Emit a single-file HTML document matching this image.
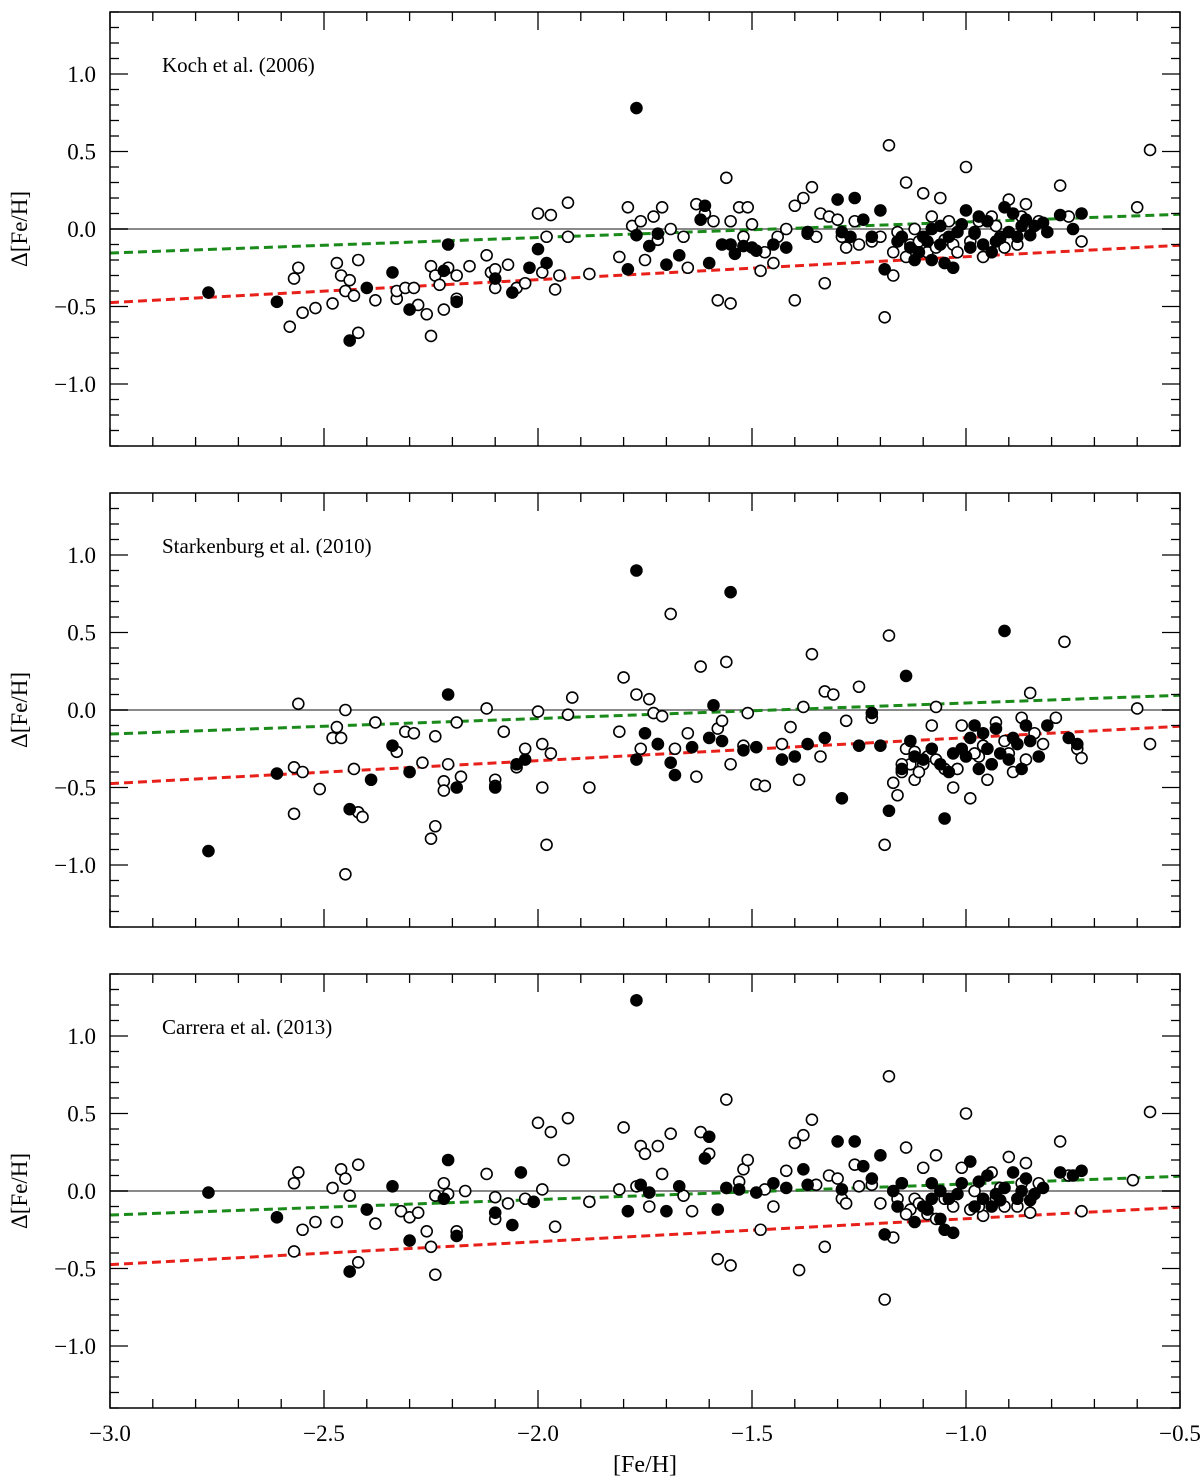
<!DOCTYPE html>
<html><head><meta charset="utf-8"><style>
body{margin:0;background:#fff}
svg{display:block}
text{font-family:"Liberation Serif",serif;fill:#000}
</style></head><body>
<svg id="chart" width="1200" height="1478" viewBox="0 0 1200 1478" xmlns="http://www.w3.org/2000/svg"></svg>
<script>
const panelTitles = ["Koch et al. (2006)", "Starkenburg et al. (2010)", "Carrera et al. (2013)"];
const xTicks = [-3.0, -2.5, -2.0, -1.5, -1.0, -0.5];
const yTicks = [-1.0, -0.5, 0.0, 0.5, 1.0];
const greenFit = [[-3.0, -0.155], [-0.5, 0.095]];
const redFit = [[-3.0, -0.475], [-0.5, -0.105]];

const p1Open = [[-2.57,-0.32],[-2.56,-0.25],[-2.58,-0.63],[-2.55,-0.54],[-2.52,-0.51],[-2.48,-0.48],[-2.47,-0.22],[-2.46,-0.30],[-2.45,-0.40],[-2.44,-0.33],[-2.43,-0.43],[-2.42,-0.20],[-2.42,-0.67],[-2.38,-0.46],[-2.33,-0.45],[-2.33,-0.40],[-2.31,-0.38],[-2.29,-0.38],[-2.28,-0.49],[-2.26,-0.55],[-2.25,-0.24],[-2.25,-0.69],[-2.24,-0.30],[-2.23,-0.36],[-2.22,-0.52],[-2.21,-0.25],[-2.19,-0.30],[-2.19,-0.45],[-2.16,-0.24],[-2.12,-0.17],[-2.11,-0.28],[-2.10,-0.26],[-2.10,-0.38],[-2.07,-0.23],[-2.05,-0.38],[-2.03,-0.35],[-2.00,0.10],[-1.99,-0.28],[-1.98,-0.05],[-1.97,0.09],[-1.96,-0.39],[-1.95,-0.30],[-1.93,0.17],[-1.93,-0.05],[-1.88,-0.29],[-1.81,-0.18],[-1.79,0.14],[-1.78,0.02],[-1.76,0.05],[-1.75,-0.20],[-1.73,0.08],[-1.72,-0.07],[-1.71,0.14],[-1.69,0.0],[-1.66,-0.05],[-1.65,-0.25],[-1.63,0.16],[-1.61,0.10],[-1.59,0.05],[-1.58,-0.46],[-1.56,0.33],[-1.55,0.05],[-1.55,-0.48],[-1.53,0.14],[-1.52,-0.05],[-1.51,0.14],[-1.50,0.03],[-1.48,-0.27],[-1.47,-0.15],[-1.45,-0.22],[-1.44,-0.05],[-1.42,0.0],[-1.40,0.15],[-1.40,-0.46],[-1.38,0.20],[-1.37,-0.03],[-1.36,0.27],[-1.35,-0.05],[-1.34,0.10],[-1.33,-0.35],[-1.32,0.08],[-1.30,0.06],[-1.29,-0.05],[-1.28,-0.12],[-1.26,0.05],[-1.25,-0.10],[-1.22,-0.08],[-1.20,-0.05],[-1.19,-0.57],[-1.18,0.54],[-1.17,-0.30],[-1.16,-0.02],[-1.14,0.30],[-1.13,-0.10],[-1.12,0.0],[-1.10,0.23],[-1.09,-0.15],[-1.08,0.08],[-1.06,0.20],[-1.05,-0.07],[-1.03,-0.10],[-1.00,0.40],[-0.98,-0.02],[-0.96,-0.18],[-0.94,0.08],[-0.92,-0.05],[-0.90,0.19],[-0.88,-0.10],[-0.86,0.16],[-0.85,0.0],[-0.83,0.05],[-0.78,0.28],[-0.76,0.08],[-0.73,-0.08],[-0.60,0.14],[-0.57,0.51],[-1.04,0.05],[-0.97,0.05],[-1.02,-0.15],[-1.14,-0.18],[-1.11,-0.08],[-1.07,-0.12],[-0.99,-0.08],[-0.93,0.02],[-0.87,0.08],[-0.91,-0.12],[-1.17,-0.15]];
const p1Filled = [[-2.77,-0.41],[-2.61,-0.47],[-2.44,-0.72],[-2.40,-0.38],[-2.34,-0.28],[-2.30,-0.52],[-2.22,-0.27],[-2.21,-0.10],[-2.19,-0.47],[-2.10,-0.32],[-2.06,-0.41],[-2.02,-0.25],[-2.00,-0.13],[-1.98,-0.22],[-1.79,-0.26],[-1.77,0.78],[-1.77,-0.04],[-1.74,-0.11],[-1.72,-0.03],[-1.70,-0.23],[-1.67,-0.17],[-1.62,0.06],[-1.61,0.15],[-1.60,-0.22],[-1.57,-0.10],[-1.55,-0.10],[-1.54,-0.16],[-1.52,-0.11],[-1.50,-0.12],[-1.49,-0.14],[-1.45,-0.10],[-1.42,-0.12],[-1.37,-0.02],[-1.30,0.19],[-1.29,-0.02],[-1.26,0.20],[-1.24,0.06],[-1.27,-0.05],[-1.22,-0.05],[-1.20,0.12],[-1.19,-0.26],[-1.15,-0.05],[-1.12,-0.20],[-1.11,-0.15],[-1.10,-0.05],[-1.08,-0.20],[-1.06,-0.10],[-1.05,-0.22],[-1.03,-0.25],[-1.01,0.03],[-1.00,0.12],[-0.99,-0.12],[-0.98,-0.03],[-0.96,-0.10],[-0.95,0.05],[-0.93,-0.08],[-0.91,0.14],[-0.90,-0.02],[-0.89,0.10],[-0.88,-0.05],[-0.86,0.06],[-0.84,0.02],[-0.81,-0.02],[-0.78,0.09],[-0.75,0.0],[-0.73,0.10],[-1.08,0.0],[-1.04,-0.05],[-0.94,-0.15],[-1.13,-0.12],[-1.09,-0.08],[-1.02,-0.02],[-0.97,0.08],[-0.92,-0.06],[-0.87,0.02],[-0.85,-0.04],[-1.16,-0.08],[-1.06,0.02],[-0.82,0.04]];

const p2Open = [[-2.56,0.04],[-2.57,-0.37],[-2.57,-0.67],[-2.55,-0.40],[-2.51,-0.51],[-2.48,-0.18],[-2.47,-0.11],[-2.46,-0.18],[-2.45,0.0],[-2.43,-0.38],[-2.42,-0.66],[-2.45,-1.06],[-2.41,-0.69],[-2.38,-0.08],[-2.33,-0.27],[-2.31,-0.14],[-2.29,-0.15],[-2.27,-0.34],[-2.25,-0.83],[-2.24,-0.75],[-2.24,-0.17],[-2.22,-0.46],[-2.22,-0.52],[-2.21,-0.35],[-2.19,-0.08],[-2.18,-0.43],[-2.12,0.01],[-2.10,-0.45],[-2.10,-0.49],[-2.08,-0.14],[-2.05,-0.37],[-2.03,-0.25],[-2.00,-0.01],[-1.99,-0.22],[-1.99,-0.50],[-1.97,-0.28],[-1.98,-0.87],[-1.93,-0.03],[-1.92,0.08],[-1.88,-0.50],[-1.81,-0.14],[-1.80,0.21],[-1.77,0.10],[-1.76,-0.25],[-1.74,0.07],[-1.73,-0.02],[-1.72,-0.22],[-1.69,0.62],[-1.71,-0.04],[-1.68,-0.25],[-1.65,-0.15],[-1.63,-0.43],[-1.62,0.28],[-1.58,-0.12],[-1.57,-0.07],[-1.56,0.31],[-1.55,-0.35],[-1.52,-0.23],[-1.51,-0.02],[-1.49,-0.48],[-1.47,-0.49],[-1.43,-0.22],[-1.41,-0.11],[-1.39,-0.45],[-1.38,0.02],[-1.36,0.36],[-1.34,-0.30],[-1.33,0.12],[-1.31,0.10],[-1.28,-0.07],[-1.25,0.15],[-1.22,-0.05],[-1.19,-0.87],[-1.18,0.48],[-1.17,-0.47],[-1.16,-0.55],[-1.15,-0.40],[-1.14,-0.25],[-1.12,-0.45],[-1.10,-0.35],[-1.08,-0.10],[-1.07,0.02],[-1.05,-0.38],[-1.03,-0.50],[-1.01,-0.10],[-0.99,-0.57],[-0.97,-0.30],[-0.95,-0.45],[-0.93,-0.08],[-0.91,-0.20],[-0.89,-0.40],[-0.87,-0.05],[-0.85,0.11],[-0.84,-0.15],[-0.82,-0.22],[-0.79,-0.05],[-0.77,0.44],[-0.74,-0.25],[-0.73,-0.31],[-0.60,0.01],[-0.57,-0.22],[-1.13,-0.35],[-0.96,-0.23],[-1.09,-0.30],[-1.15,-0.35],[-1.11,-0.40],[-1.07,-0.32],[-1.02,-0.38],[-0.98,-0.28],[-0.94,-0.35],[-0.90,-0.28],[-0.86,-0.32],[-1.12,-0.27]];
const p2Filled = [[-2.77,-0.91],[-2.61,-0.41],[-2.44,-0.64],[-2.39,-0.45],[-2.34,-0.23],[-2.30,-0.40],[-2.21,0.10],[-2.19,-0.50],[-2.10,-0.50],[-2.05,-0.35],[-2.03,-0.32],[-1.77,0.90],[-1.77,-0.32],[-1.75,-0.15],[-1.72,-0.22],[-1.69,-0.34],[-1.68,-0.42],[-1.64,-0.24],[-1.60,-0.18],[-1.59,0.03],[-1.57,-0.20],[-1.55,0.76],[-1.52,-0.26],[-1.49,-0.24],[-1.43,-0.32],[-1.40,-0.30],[-1.37,-0.22],[-1.33,-0.18],[-1.29,-0.57],[-1.25,-0.23],[-1.22,-0.02],[-1.20,-0.23],[-1.18,-0.65],[-1.15,-0.38],[-1.14,0.22],[-1.12,-0.30],[-1.06,-0.35],[-1.05,-0.70],[-1.03,-0.28],[-1.01,-0.25],[-0.99,-0.18],[-0.97,-0.38],[-0.95,-0.25],[-0.93,-0.12],[-0.91,0.51],[-0.90,-0.32],[-0.89,-0.18],[-0.87,-0.38],[-0.85,-0.20],[-0.83,-0.30],[-0.81,-0.10],[-0.76,-0.18],[-0.74,-0.22],[-1.08,-0.25],[-0.94,-0.35],[-0.98,-0.10],[-1.10,-0.32],[-1.04,-0.40],[-1.00,-0.30],[-0.96,-0.15],[-0.92,-0.28],[-0.88,-0.22],[-0.86,-0.10],[-1.13,-0.20]];

const p3Open = [[-2.57,0.05],[-2.56,0.12],[-2.57,-0.39],[-2.55,-0.25],[-2.52,-0.20],[-2.48,0.02],[-2.47,-0.20],[-2.46,0.14],[-2.45,0.08],[-2.44,-0.03],[-2.42,0.17],[-2.42,-0.46],[-2.38,-0.21],[-2.32,-0.13],[-2.30,-0.17],[-2.28,-0.14],[-2.26,-0.26],[-2.25,-0.36],[-2.24,-0.54],[-2.24,-0.03],[-2.22,0.05],[-2.21,-0.02],[-2.19,-0.26],[-2.17,0.0],[-2.12,0.11],[-2.10,-0.04],[-2.10,-0.18],[-2.07,-0.08],[-2.03,-0.05],[-2.00,0.44],[-1.99,0.01],[-1.97,0.38],[-1.96,-0.23],[-1.94,0.20],[-1.93,0.47],[-1.88,-0.07],[-1.81,0.01],[-1.80,0.41],[-1.77,0.03],[-1.76,0.29],[-1.75,0.24],[-1.74,-0.10],[-1.72,0.29],[-1.71,0.11],[-1.69,0.37],[-1.66,-0.03],[-1.64,-0.13],[-1.62,0.38],[-1.60,0.24],[-1.58,-0.44],[-1.56,0.59],[-1.55,-0.48],[-1.53,0.06],[-1.52,0.14],[-1.51,0.20],[-1.48,-0.25],[-1.47,0.01],[-1.45,-0.10],[-1.42,0.13],[-1.40,0.31],[-1.39,-0.51],[-1.38,0.36],[-1.36,0.46],[-1.35,0.04],[-1.33,-0.36],[-1.32,0.10],[-1.30,0.08],[-1.29,-0.05],[-1.28,-0.08],[-1.26,0.17],[-1.25,0.03],[-1.22,0.04],[-1.20,-0.08],[-1.19,-0.70],[-1.18,0.74],[-1.17,-0.30],[-1.15,0.05],[-1.14,0.28],[-1.13,-0.12],[-1.12,-0.05],[-1.10,0.15],[-1.09,-0.15],[-1.07,0.23],[-1.05,-0.05],[-1.03,-0.10],[-1.00,0.50],[-0.98,0.0],[-0.96,-0.16],[-0.94,0.12],[-0.92,0.02],[-0.90,0.22],[-0.88,-0.10],[-0.86,0.18],[-0.85,-0.14],[-0.83,0.05],[-0.78,0.32],[-0.76,0.10],[-0.73,-0.13],[-0.61,0.07],[-0.57,0.51],[-1.01,0.15],[-0.97,-0.10],[-1.14,-0.15],[-1.11,-0.08],[-1.07,-0.18],[-0.99,-0.12],[-0.93,-0.05],[-0.87,0.05],[-0.91,-0.10],[-1.16,-0.05]];
const p3Filled = [[-2.77,-0.01],[-2.61,-0.17],[-2.44,-0.52],[-2.40,-0.12],[-2.34,0.03],[-2.30,-0.32],[-2.21,0.20],[-2.22,-0.05],[-2.19,-0.29],[-2.10,-0.14],[-2.06,-0.22],[-2.04,0.12],[-2.01,-0.07],[-1.79,-0.13],[-1.77,1.23],[-1.76,0.04],[-1.74,-0.01],[-1.70,-0.13],[-1.67,0.03],[-1.61,0.21],[-1.60,0.35],[-1.58,-0.12],[-1.56,0.02],[-1.53,0.01],[-1.49,-0.01],[-1.45,0.05],[-1.42,0.02],[-1.38,0.14],[-1.37,0.04],[-1.30,0.32],[-1.29,0.01],[-1.26,0.32],[-1.24,0.16],[-1.22,0.08],[-1.20,0.23],[-1.19,-0.28],[-1.17,0.0],[-1.15,0.05],[-1.12,-0.20],[-1.10,-0.10],[-1.08,-0.05],[-1.06,-0.18],[-1.05,-0.25],[-1.03,-0.27],[-1.01,0.05],[-0.99,0.19],[-0.98,-0.10],[-0.96,-0.05],[-0.95,0.10],[-0.93,-0.02],[-0.91,0.02],[-0.89,0.12],[-0.88,-0.05],[-0.86,0.08],[-0.84,-0.02],[-0.82,0.02],[-0.78,0.12],[-0.75,0.10],[-0.73,0.13],[-1.08,0.05],[-1.04,-0.05],[-0.94,-0.10],[-1.09,-0.12],[-1.02,-0.02],[-0.97,0.06],[-0.92,-0.06],[-0.87,0.0],[-0.85,-0.06],[-1.16,-0.10],[-1.06,0.0]];

const openSets = [p1Open, p2Open, p3Open];
const filledSets = [p1Filled, p2Filled, p3Filled];

const NS = "http://www.w3.org/2000/svg";
const svg = document.getElementById("chart");
const X0 = 110, X1 = 1180, XMIN = -3.0, XMAX = -0.5;
const YMIN = -1.4, YMAX = 1.4;
const panelTops = [12, 493, 974];
const PH = 434;
function sx(v){ return X0 + (v - XMIN) / (XMAX - XMIN) * (X1 - X0); }
function mk(tag, attrs, parent){
  const e = document.createElementNS(NS, tag);
  for (const k in attrs) e.setAttribute(k, attrs[k]);
  (parent || svg).appendChild(e);
  return e;
}
function fmt(v){ return (v < 0 ? "\u2212" : "") + Math.abs(v).toFixed(1); }

panelTitles.forEach((title, p) => {
  const top = panelTops[p], bot = top + PH;
  const sy = v => top + (YMAX - v) / (YMAX - YMIN) * PH;
  const g = mk("g", {});
  
  

  const zl = mk("line", {x1: X0, x2: X1, y1: sy(0), y2: sy(0), stroke: "#8a8a8a", "stroke-width": 2}, g);
  
  

  const gl = mk("line", {x1: sx(greenFit[0][0]), y1: sy(greenFit[0][1]), x2: sx(greenFit[1][0]), y2: sy(greenFit[1][1]), stroke: "#1a8a1a", "stroke-width": 3, "stroke-dasharray": "9 5"}, g);
  
  
  const rl = mk("line", {x1: sx(redFit[0][0]), y1: sy(redFit[0][1]), x2: sx(redFit[1][0]), y2: sy(redFit[1][1]), stroke: "#e8201a", "stroke-width": 3, "stroke-dasharray": "9 5"}, g);
  
  

  openSets[p].forEach(d => {
    const c = mk("circle", {cx: sx(d[0]), cy: sy(d[1]), r: 5.5, fill: "#fff", stroke: "#000", "stroke-width": 1.6}, g);
    
    
  });
  filledSets[p].forEach(d => {
    const c = mk("circle", {cx: sx(d[0]), cy: sy(d[1]), r: 5.8, fill: "#000", stroke: "#000", "stroke-width": 1}, g);
    
    
  });

  const fr = mk("rect", {x: X0, y: top, width: X1 - X0, height: PH, fill: "none", stroke: "#000", "stroke-width": 1.5}, g);
  
  

  for (let i = 0; i <= 25; i++) {
    const v = XMIN + i * 0.1;
    const major = i % 5 === 0;
    const L = major ? 18 : 9;
    const x = sx(v);
    mk("line", {x1: x, x2: x, y1: bot, y2: bot - L, stroke: "#000", "stroke-width": 1.3}, g);
    mk("line", {x1: x, x2: x, y1: top, y2: top + L, stroke: "#000", "stroke-width": 1.3}, g);
  }
  for (let i = -14; i <= 14; i++) {
    const v = i / 10;
    const major = i % 5 === 0;
    const L = major ? 18 : 9;
    const y = sy(v);
    mk("line", {x1: X0, x2: X0 + L, y1: y, y2: y, stroke: "#000", "stroke-width": 1.3}, g);
    mk("line", {x1: X1, x2: X1 - L, y1: y, y2: y, stroke: "#000", "stroke-width": 1.3}, g);
  }
  yTicks.forEach(v => {
    const t = mk("text", {x: 96, y: sy(v) + 8, "text-anchor": "end", "font-size": 23}, g);
    t.textContent = fmt(v);
    
    
  });
  const yt = mk("text", {x: 0, y: 0, "text-anchor": "middle", "font-size": 23, transform: "translate(27," + sy(0) + ") rotate(-90)"}, g);
  yt.textContent = "\u0394[Fe/H]";
  
  

  const tt = mk("text", {x: 162, y: top + 60, "font-size": 21}, g);
  tt.textContent = title;
  
  

  if (p === 2) {
    xTicks.forEach(v => {
      const t = mk("text", {x: sx(v), y: bot + 33, "text-anchor": "middle", "font-size": 23}, g);
      t.textContent = fmt(v);
      
      
    });
    const xt = mk("text", {x: 645, y: 1472, "text-anchor": "middle", "font-size": 24}, g);
    xt.textContent = "[Fe/H]";
    
    
  }
});
</script>
</body></html>
